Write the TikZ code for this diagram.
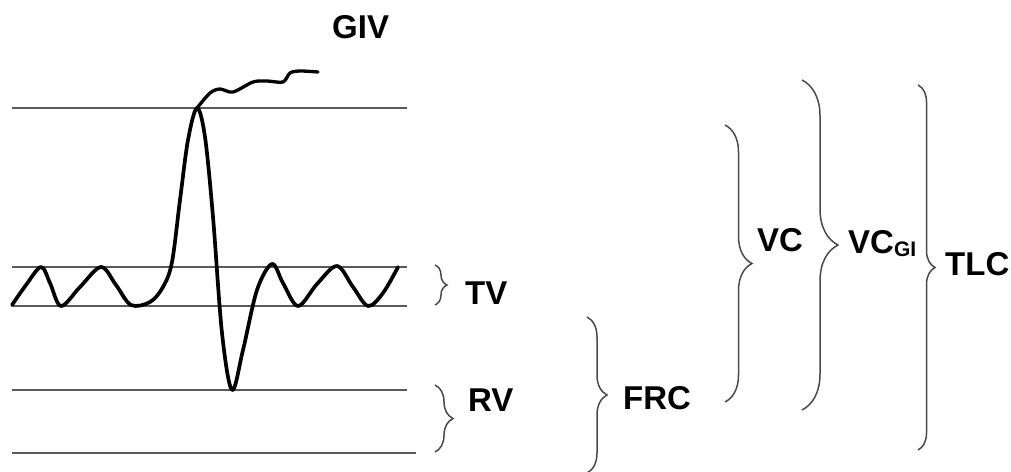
\documentclass[tikz,border=0pt]{standalone}
\usepackage{fontspec}
\setmainfont{Liberation Sans}
\usetikzlibrary{decorations.pathreplacing}
\definecolor{lineg}{HTML}{5A5A5A}
\definecolor{braceg}{HTML}{4A4A4A}
\tikzset{
  level/.style={draw=lineg, line width=1.9pt},
  wave/.style={draw=black, line width=3.7pt, line join=round, line cap=round},
  bracebox/.style={draw=braceg, line width=1.5pt, decorate, decoration={brace, amplitude=#1}},
  lbl/.style={anchor=west, inner sep=0pt, font=\fontsize{33}{36}\selectfont\bfseries},
}
\begin{document}
\begin{tikzpicture}[x=1pt, y=-1pt]
\useasboundingbox[fill=white] (0,0) rectangle (1011,471);

% level lines
\coordinate (l1a) at (12,108); \coordinate (l1b) at (407,108);
\coordinate (l2a) at (12,267); \coordinate (l2b) at (407,267);
\coordinate (l3a) at (12,306); \coordinate (l3b) at (407,306);
\coordinate (l4a) at (12,390); \coordinate (l4b) at (407,390);
\coordinate (l5a) at (12,453); \coordinate (l5b) at (416,453);
\draw[level] (l1a) -- (l1b);
\draw[level] (l2a) -- (l2b);
\draw[level] (l3a) -- (l3b);
\draw[level] (l4a) -- (l4b);
\draw[level] (l5a) -- (l5b);

% breathing wave
\draw[wave] plot[smooth, tension=0.55] coordinates {
 (12,305) (26,285) (41,267) (50,283) (61,306) (80,287) (101,267) (116,285) (131,305)
 (150,302) (163,287) (172,262) (180,200) (188,140) (197,108) (205,137) (213,217)
 (222,333) (232,390) (243,350) (257,290) (272,264) (283,283) (298,306) (317,284)
 (337,266) (353,287) (368,306) (383,293) (398,267)};
% GIV curve
\draw[wave, line width=3.3pt] plot[smooth, tension=0.5] coordinates {
 (197,108) (210,93) (220,89) (233,92) (253,82) (267,81) (283,82) (290,73) (300,71) (318,72)};

% braces
\coordinate (tvT) at (435,265); \coordinate (tvB) at (435,305);
\coordinate (rvT) at (435,385); \coordinate (rvB) at (435,452);
\coordinate (frcT) at (587,317); \coordinate (frcB) at (587,473);
\coordinate (vcT) at (725,125); \coordinate (vcB) at (725,402);
\coordinate (vcgT) at (802,80); \coordinate (vcgB) at (802,410);
\coordinate (tlcT) at (918,85); \coordinate (tlcB) at (918,450);
\draw[bracebox=12] (tvT) -- (tvB);
\draw[bracebox=18] (rvT) -- (rvB);
\draw[bracebox=20] (frcT) -- (frcB);
\draw[bracebox=27] (vcT) -- (vcB);
\draw[bracebox=36] (vcgT) -- (vcgB);
\draw[bracebox=17] (tlcT) -- (tlcB);

% labels
\node[lbl] (giv) at (332,27) {GIV};
\node[lbl] (tv) at (465,293) {TV};
\node[lbl] (rv) at (468,400) {RV};
\node[lbl] (frc) at (623,398) {FRC};
\node[lbl] (vc) at (757,240) {VC};
\node[lbl] (vcgi) at (848,244) {VC\raisebox{-3pt}{\fontsize{21}{21}\selectfont GI}};
\node[lbl] (tlc) at (945,264) {TLC};
\end{tikzpicture}
\end{document}
